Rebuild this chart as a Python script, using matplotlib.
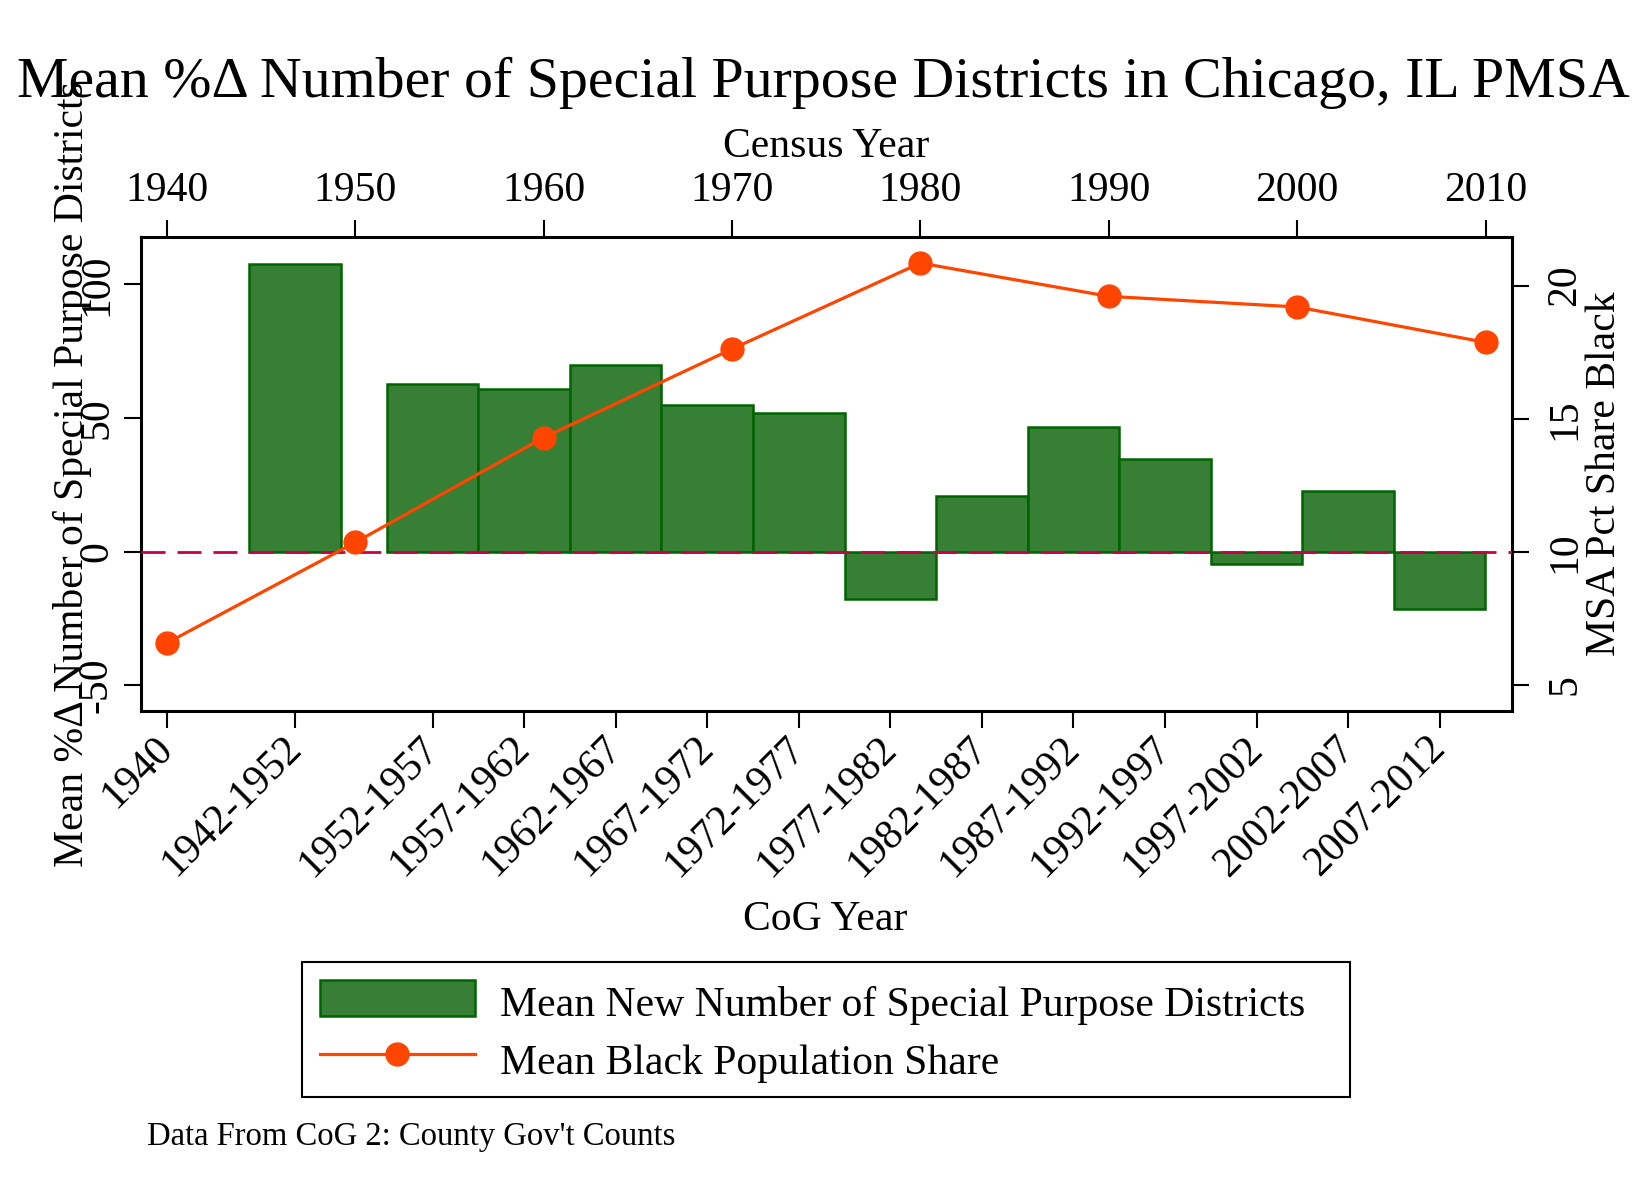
import numpy as np
import matplotlib
matplotlib.use("Agg")
import matplotlib.pyplot as plt
from matplotlib.lines import Line2D
from matplotlib.patches import Patch
from matplotlib.transforms import ScaledTranslation

plt.rcParams['font.family'] = ['Liberation Serif', 'DejaVu Serif']

# ---- data ----
cog_labels = ["1940", "1942-1952", "1952-1957", "1957-1962", "1962-1967", "1967-1972",
              "1972-1977", "1977-1982", "1982-1987", "1987-1992", "1992-1997",
              "1997-2002", "2002-2007", "2007-2012"]
cog_mid = [1940, 1947, 1954.5, 1959.5, 1964.5, 1969.5, 1974.5, 1979.5, 1984.5,
           1989.5, 1994.5, 1999.5, 2004.5, 2009.5]
pct_change_sd = [np.nan, 107.8, 62.7, 60.7, 69.7, 54.7, 51.8, -17.7, 20.8, 46.7,
                 34.7, -4.6, 22.7, -21.5]
census_years = [1940, 1950, 1960, 1970, 1980, 1990, 2000, 2010]
black_share = [6.57, 10.35, 14.29, 17.62, 20.85, 19.6, 19.2, 17.87]
left_ticks = [-50, 0, 50, 100]
right_ticks = [5, 10, 15, 20]

BAR_FILL = '#367f34'
BAR_EDGE = '#006400'
LINE_C = '#ff4500'
ZERO_C = '#c8004b'

W, H = 1652, 1201
fig = plt.figure(figsize=(W / 100, H / 100), dpi=100)

L, R, T, B = 141.3, 1511.5, 236.7, 710.7
pos = [L / W, 1 - B / H, (R - L) / W, (B - T) / H]
ax = fig.add_axes(pos)
ax2 = fig.add_axes(pos, label='line')
ax2.patch.set_visible(False)

# bars
mid = np.array(cog_mid, dtype=float)
vals = np.array(pct_change_sd, dtype=float)
m = ~np.isnan(vals)
ax.bar(mid[m], vals[m], width=5, color=BAR_FILL, edgecolor=BAR_EDGE,
       linewidth=1.8, zorder=2)
ax.axhline(0, color=ZERO_C, lw=2.0, ls=(0, (8.65, 4.3)), zorder=3)

ax.set_xlim(1938.597, 2013.42)
ax.set_ylim(-59.48, 117.85)
ax.set_xticks(cog_mid)
ax.set_xticklabels(cog_labels)
ax.set_yticks(left_ticks)
ax.set_yticklabels([str(t) for t in left_ticks])
ax.tick_params(axis='x', direction='out', length=12.2, width=1.5, labelsize=30, pad=10.8)
ax.tick_params(axis='y', direction='out', length=12.2, width=1.5, labelsize=30, pad=12.5)
for lab in ax.get_xticklabels():
    lab.set_rotation(45)
    lab.set_rotation_mode('anchor')
    lab.set_ha('right')
    lab.set_va('center')
for lab in ax.get_yticklabels():
    lab.set_rotation(90)
    lab.set_rotation_mode('anchor')
    lab.set_ha('center')
    lab.set_va('baseline')
for s in ax.spines.values():
    s.set_linewidth(2.2)

# line on top / right axes
ax2.plot(census_years, black_share, color=LINE_C, lw=2.3, marker='o',
         markersize=16.5, markeredgecolor=LINE_C, zorder=4)
ax2.set_xlim(1938.65, 2011.38)
ax2.set_ylim(4.03, 21.84)
ax2.xaxis.tick_top()
ax2.yaxis.tick_right()
ax2.set_xticks(census_years)
ax2.set_xticklabels([str(y) for y in census_years])
ax2.set_yticks(right_ticks)
ax2.set_yticklabels([str(t) for t in right_ticks])
ax2.tick_params(axis='x', direction='out', length=12.2, width=1.5, labelsize=30, pad=13.2)
ax2.tick_params(axis='y', direction='out', length=12.2, width=1.5, labelsize=30, pad=33.5)
for lab in ax2.get_xticklabels():
    lab.set_va('baseline')
for lab in ax2.get_yticklabels():
    lab.set_rotation(90)
    lab.set_rotation_mode('anchor')
    lab.set_ha('center')
    lab.set_va('baseline')
for s in ax2.spines.values():
    s.set_visible(False)

# texts
fig.text(17 / W, 1 - 96.7 / H,
         "Mean %\u0394 Number of Special Purpose Districts in Chicago, IL PMSA",
         fontsize=41.7, ha='left', va='baseline')
fig.text(825.7 / W, 1 - 156.7 / H, "Census Year", fontsize=30, ha='center', va='baseline')
fig.text(825.5 / W, 1 - 929.5 / H, "CoG Year", fontsize=30, ha='center', va='baseline')
fig.text(83 / W, 1 - 474.5 / H, "Mean %\u0394 Number of Special Purpose Districts",
         fontsize=30, rotation=90, rotation_mode='anchor', ha='center', va='baseline')
fig.text(1615 / W, 1 - 474 / H, "MSA Pct Share Black", fontsize=30, rotation=90,
         rotation_mode='anchor', ha='center', va='baseline')
fig.text(147 / W, 1 - 1145 / H, "Data From CoG 2: County Gov't Counts",
         fontsize=23.5, ha='left', va='baseline')

handles = [Patch(facecolor=BAR_FILL, edgecolor=BAR_EDGE, linewidth=1.8),
           Line2D([], [], color=LINE_C, lw=2.3, marker='o', markersize=16.5,
                  markeredgecolor=LINE_C)]
labels = ["Mean New Number of Special Purpose Districts", "Mean Black Population Share"]
leg = fig.legend(handles, labels, loc='upper left',
                 bbox_to_anchor=(302 / W, 1 - 1096 / H, 1048 / W, 134 / H),
                 mode='expand', borderaxespad=0, fontsize=30, handlelength=3.72,
                 handleheight=0.96, handletextpad=0.6, borderpad=0.42,
                 labelspacing=0.4, numpoints=1, fancybox=False, framealpha=1,
                 edgecolor='black')
leg.get_frame().set_linewidth(1.5)
shift = ScaledTranslation(0, -4 / 100, fig.dpi_scale_trans)
for t in leg.get_texts():
    t.set_transform(t.get_transform() + shift)

fig.savefig('out.png', dpi=100)
